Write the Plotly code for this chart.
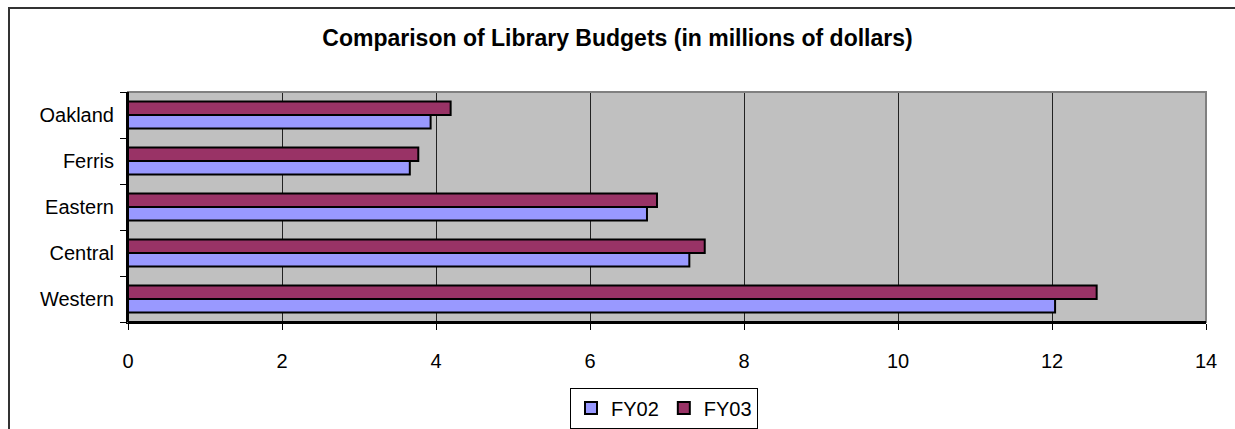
import plotly.graph_objects as go

categories = ["Western", "Central", "Eastern", "Ferris", "Oakland"]
fy02 = [12.04, 7.29, 6.74, 3.66, 3.93]
fy03 = [12.58, 7.49, 6.87, 3.77, 4.19]
x_ticks = [0, 2, 4, 6, 8, 10, 12, 14]

FONT = "Liberation Sans, Arial, sans-serif"

fig = go.Figure()
fig.add_trace(go.Bar(y=categories, x=fy02, name="FY02", orientation="h",
                     marker=dict(color="#9999FF", line=dict(color="#000000", width=2))))
fig.add_trace(go.Bar(y=categories, x=fy03, name="FY03", orientation="h",
                     marker=dict(color="#993366", line=dict(color="#000000", width=2))))

L, R, T, B = 128, 29, 92, 107
W, H = 1235, 429
pw, ph = W - L - R, H - T - B

def px(xp):
    return (xp - L) / pw

def py(yp):
    return (H - B - yp) / ph

fig.update_layout(
    width=W, height=H,
    margin=dict(l=L, r=R, t=T, b=B, autoexpand=False),
    paper_bgcolor="white",
    plot_bgcolor="#C0C0C0",
    barmode="group",
    bargap=0.41,
    bargroupgap=0,
    font=dict(family=FONT, size=20, color="#000000"),
    title=dict(text="<b>Comparison of Library Budgets (in millions of dollars)</b>",
               x=0.5, xref="container", xanchor="center",
               y=1 - 38 / H, yref="container", yanchor="middle",
               font=dict(family=FONT, size=23, color="#000000")),
    xaxis=dict(range=[0, 14], tickvals=x_ticks, ticktext=[str(v) for v in x_ticks],
               showgrid=True, gridcolor="#222222", gridwidth=1,
               showline=True, linecolor="#000000", linewidth=2,
               ticks="outside", ticklen=6, tickcolor="#000000", tickwidth=1,
               ticklabelstandoff=14, zeroline=False, fixedrange=True,
               automargin=False),
    yaxis=dict(categoryorder="array", categoryarray=categories,
               showgrid=False, showline=True, linecolor="#000000", linewidth=2,
               ticks="outside", tickson="boundaries", ticklen=6,
               tickcolor="#000000", tickwidth=1, ticklabelstandoff=8,
               fixedrange=True, automargin=False),
    legend=dict(orientation="h", x=px(664), xanchor="center",
                y=py(408), yanchor="middle",
                bordercolor="#000000", borderwidth=1, bgcolor="white",
                font=dict(family=FONT, size=20), itemwidth=30,
                traceorder="normal"),
    shapes=[
        dict(type="rect", xref="paper", yref="paper", x0=0, x1=1, y0=0, y1=1,
             line=dict(color="#808080", width=2), layer="above"),
        dict(type="rect", xref="paper", yref="paper",
             x0=px(9), x1=px(1250), y0=py(445), y1=py(8),
             line=dict(color="#333333", width=2), layer="above"),
    ],
)

fig.add_shape(type="line", xref="paper", yref="paper", x0=0, x1=1, y0=0, y1=0,
              line=dict(color="#000000", width=2), layer="above")
fig.add_shape(type="line", xref="paper", yref="paper", x0=0, x1=0, y0=0, y1=1,
              line=dict(color="#000000", width=2), layer="above")

fig.write_html("out.html")
